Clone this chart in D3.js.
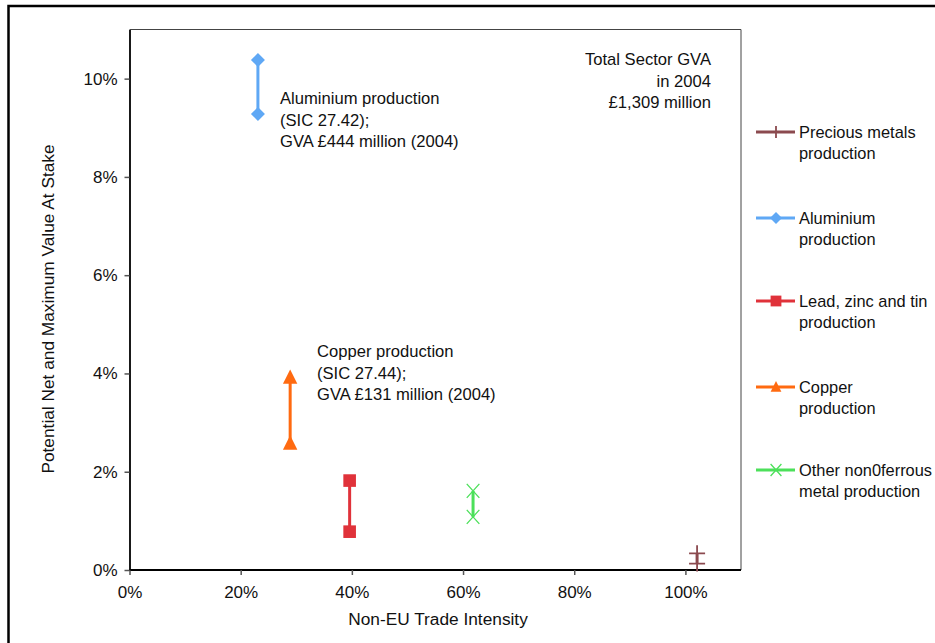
<!DOCTYPE html>
<html><head><meta charset="utf-8">
<script src="https://cdn.jsdelivr.net/npm/d3@7"></script>
<style>body{margin:0;background:#fff;}svg{display:block;font-family:"Liberation Sans",Arial,sans-serif;}</style>
</head><body>
<svg id="c" width="935" height="643"></svg>
<script>
const seriesNames = ["Precious metals production","Aluminium production","Lead, zinc and tin production","Copper production","Other non0ferrous metal production"];
const legendLines = [["Precious metals","production"],["Aluminium","production"],["Lead, zinc and tin","production"],["Copper","production"],["Other non0ferrous","metal production"]];
const colors = ["#8B4A4F","#5FA8F5","#E0323A","#FF6A10","#4CE05A"];
const symbols = ["plus","diamond","square","triangle","x"];
const tradeIntensity = [1.021, 0.231, 0.396, 0.289, 0.618];
const valueMax = [0.0034, 0.1038, 0.0182, 0.0392, 0.0161];
const valueNet = [0.0013, 0.0928, 0.0078, 0.0258, 0.0108];
const xTicks = [0,0.2,0.4,0.6,0.8,1.0];
const yTicks = [0,0.02,0.04,0.06,0.08,0.10];

const svg = d3.select("#c");
svg.append("rect").attr("x",8.5).attr("y",6).attr("width",940).attr("height",650)
  .attr("fill","none").attr("stroke","#000").attr("stroke-width",2.5);

const L=129.5,R=741,T=29.5,B=570;
const x = d3.scaleLinear().domain([0,1.1]).range([L,R]);
const y = d3.scaleLinear().domain([0,0.11]).range([B,T]);

svg.append("path").attr("d",`M${L},${T}H${R}V${B}`).attr("fill","none").attr("stroke","#444").attr("stroke-width",1);

const fmt = d=>Math.round(d*100)+"%";
const gx = svg.append("g").attr("transform",`translate(0,${B})`)
  .call(d3.axisBottom(x).tickValues(xTicks).tickFormat(fmt).tickSize(5).tickPadding(11).tickSizeOuter(0));
const gy = svg.append("g").attr("transform",`translate(${L},0)`)
  .call(d3.axisLeft(y).tickValues(yTicks).tickFormat(fmt).tickSize(5).tickPadding(7).tickSizeOuter(0));
[gx,gy].forEach(g=>{
  g.select(".domain").attr("stroke","#000").attr("stroke-width",1.8);
  g.selectAll(".tick line").attr("stroke","#555").attr("stroke-width",1.5);
  g.selectAll(".tick text").attr("font-size",17).attr("fill","#111").attr("font-family","Liberation Sans, Arial, sans-serif");
});
gx.select(".domain").attr("d",`M${L},0H${R}`);

svg.append("text").attr("x",438).attr("y",625).attr("text-anchor","middle")
  .attr("font-size",17.3).attr("fill","#111").text("Non-EU Trade Intensity");
svg.append("text").attr("transform",`translate(54,309) rotate(-90)`).attr("text-anchor","middle")
  .attr("font-size",17.3).attr("fill","#111").text("Potential Net and Maximum Value At Stake");

function marker(g,type,cx,cy,col,size){
  const s=size;
  if(type==="diamond"){
    g.append("path").attr("d",`M${cx},${cy-s}L${cx+s},${cy}L${cx},${cy+s}L${cx-s},${cy}Z`).attr("fill",col);
  } else if(type==="square"){
    g.append("rect").attr("x",cx-s*0.9).attr("y",cy-s*0.9).attr("width",s*1.8).attr("height",s*1.8).attr("fill",col);
  } else if(type==="triangle"){
    g.append("path").attr("d",`M${cx},${cy-s}L${cx+s*0.9},${cy+s*0.8}L${cx-s*0.9},${cy+s*0.8}Z`).attr("fill",col);
  } else if(type==="x"){
    g.append("path").attr("d",`M${cx-s*0.9},${cy-s}L${cx+s*0.9},${cy+s}M${cx-s*0.9},${cy+s}L${cx+s*0.9},${cy-s}`).attr("stroke",col).attr("stroke-width",1.3).attr("fill","none");
  } else if(type==="plus"){
    g.append("path").attr("d",`M${cx-s},${cy}H${cx+s}M${cx},${cy-s}V${cy+s}`).attr("stroke",col).attr("stroke-width",1.8).attr("fill","none");
  }
}

const sizes=[8,7,7,8,7];
seriesNames.forEach((n,i)=>{
  const g=svg.append("g");
  g.append("line").attr("x1",x(tradeIntensity[i])).attr("x2",x(tradeIntensity[i]))
    .attr("y1",y(valueMax[i])).attr("y2",y(valueNet[i])).attr("stroke",colors[i]).attr("stroke-width",3);
  marker(g,symbols[i],x(tradeIntensity[i]),y(valueMax[i]),colors[i],sizes[i]);
  marker(g,symbols[i],x(tradeIntensity[i]),y(valueNet[i]),colors[i],sizes[i]);
});

function multi(lines,tx,ty,anchor){
  const t=svg.append("text").attr("font-size",16.6).attr("fill","#111").attr("text-anchor",anchor);
  lines.forEach((l,k)=>t.append("tspan").attr("x",tx).attr("y",ty+k*21.5).text(l));
}
multi(["Aluminium production","(SIC 27.42);","GVA £444 million (2004)"],280,104,"start");
multi(["Copper production","(SIC 27.44);","GVA £131 million (2004)"],317,357,"start");
multi(["Total Sector GVA","in 2004","£1,309 million"],711,65,"end");

const legY=[132,218,301,387,470];
legendLines.forEach((ls,i)=>{
  const g=svg.append("g");
  g.append("line").attr("x1",756).attr("x2",795).attr("y1",legY[i]).attr("y2",legY[i]).attr("stroke",colors[i]).attr("stroke-width",3);
  marker(g,symbols[i],776,legY[i],colors[i],6);
  const t=g.append("text").attr("font-size",16.4).attr("fill","#111");
  ls.forEach((l,k)=>t.append("tspan").attr("x",799).attr("y",legY[i]+6+k*21).text(l));
});
</script>
</body></html>
